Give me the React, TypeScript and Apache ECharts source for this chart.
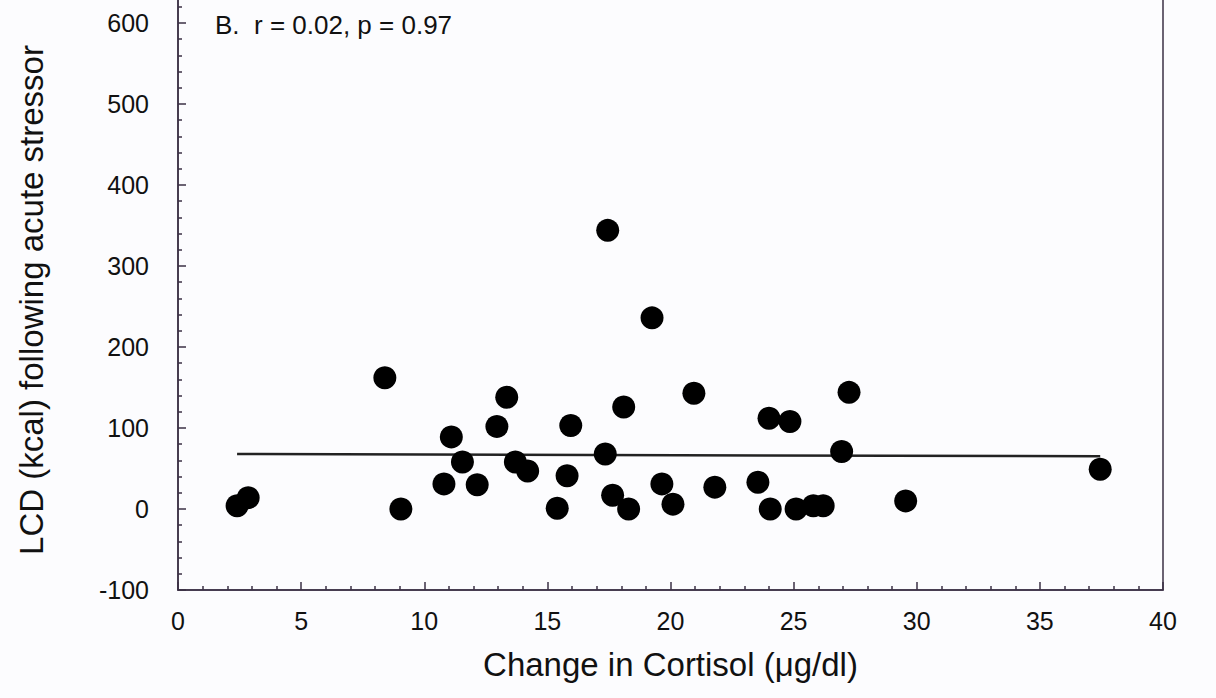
import React, { useEffect, useRef } from "react";
import * as echarts from "echarts";

const cortisolChange: number[] = [
  2.4, 2.85, 8.4, 9.05, 10.8, 11.1, 11.55, 12.15, 12.95, 13.35, 13.7, 14.2,
  15.4, 15.8, 15.95, 17.35, 17.45, 17.65, 18.1, 18.3, 19.25, 19.65, 20.1,
  20.95, 21.8, 23.55, 24.0, 24.05, 24.85, 25.1, 25.8, 26.2, 26.95, 27.25,
  29.55, 37.45,
];
const lcdKcal: number[] = [
  4, 14, 162, 0, 31, 89, 58, 30, 102, 138, 58, 47, 1, 41, 103, 68, 344, 17,
  126, 0, 236, 31, 6, 143, 27, 33, 112, 0, 108, 0, 4, 4, 71, 144, 10, 49,
];
const fitX: number[] = [2.4, 37.45];
const fitY: number[] = [68, 65];
const yTickMax = 600;
const titleText = "B.  r = 0.02, p = 0.97";
const xName = "Change in Cortisol (\u03bcg/dl)";
const yName = "LCD (kcal) following acute stressor";

export default function App() {
  const ref = useRef<HTMLDivElement>(null);
  useEffect(() => {
    if (!ref.current) return;
    const chart = echarts.init(ref.current, undefined, { renderer: "svg" });
    const axisColor = "#3b3045";
    const font = "'Liberation Sans', Arial, sans-serif";
    chart.setOption({
      animation: false,
      backgroundColor: "#fcfcfe",
      grid: {
        left: 178,
        right: 53,
        top: -58,
        bottom: 108,
        outerBoundsMode: "none",
        containLabel: false,
        show: true,
        borderColor: axisColor,
        borderWidth: 1.5,
        backgroundColor: "transparent",
      },
      title: {
        text: titleText,
        left: 210,
        top: 7,
        textStyle: { fontFamily: font, fontSize: 26, fontWeight: "normal", color: "#111" },
      },
      graphic: [
        {
          type: "text",
          x: 31,
          y: 300,
          rotation: Math.PI / 2,
          style: {
            text: yName,
            align: "center",
            verticalAlign: "middle",
            fontFamily: font,
            fontSize: 33,
            fill: "#111",
          },
        },
      ],
      xAxis: {
        type: "value",
        min: 0,
        max: 40,
        interval: 5,
        name: xName,
        nameLocation: "middle",
        nameGap: 58,
        nameTextStyle: { fontFamily: font, fontSize: 33, color: "#111" },
        axisLine: { show: true, onZero: false, lineStyle: { color: axisColor, width: 1.5 } },
        axisTick: { show: true, inside: true, length: 8, lineStyle: { color: axisColor, width: 1.5 } },
        minorTick: { show: true, splitNumber: 5, length: 4, lineStyle: { color: axisColor, width: 1.5 } },
        axisLabel: { fontFamily: font, fontSize: 25, color: "#111", margin: 18 },
        splitLine: { show: false },
      },
      yAxis: {
        type: "value",
        min: -100,
        max: 700,
        interval: 100,
        axisLine: { show: true, onZero: false, lineStyle: { color: axisColor, width: 1.5 } },
        axisTick: { show: true, inside: true, length: 8, lineStyle: { color: axisColor, width: 1.5 } },
        minorTick: { show: true, splitNumber: 5, length: 4, lineStyle: { color: axisColor, width: 1.5 } },
        axisLabel: {
          fontFamily: font,
          fontSize: 25,
          color: "#111",
          margin: 29,
          formatter: (v: number) => (v > yTickMax ? "" : String(v)),
        },
        splitLine: { show: false },
      },
      series: [
        {
          type: "line",
          data: fitX.map((x, i) => [x, fitY[i]]),
          symbol: "none",
          lineStyle: { color: "#222", width: 2.5 },
          z: 1,
        },
        {
          type: "scatter",
          data: cortisolChange.map((x, i) => [x, lcdKcal[i]]),
          symbol: "circle",
          symbolSize: 23,
          itemStyle: { color: "#000", opacity: 1 },
          z: 2,
        },
      ],
    });
    return () => chart.dispose();
  }, []);
  return (
    <div
      ref={ref}
      style={{ position: "absolute", left: 0, top: 0, width: 1216, height: 698 }}
    />
  );
}
